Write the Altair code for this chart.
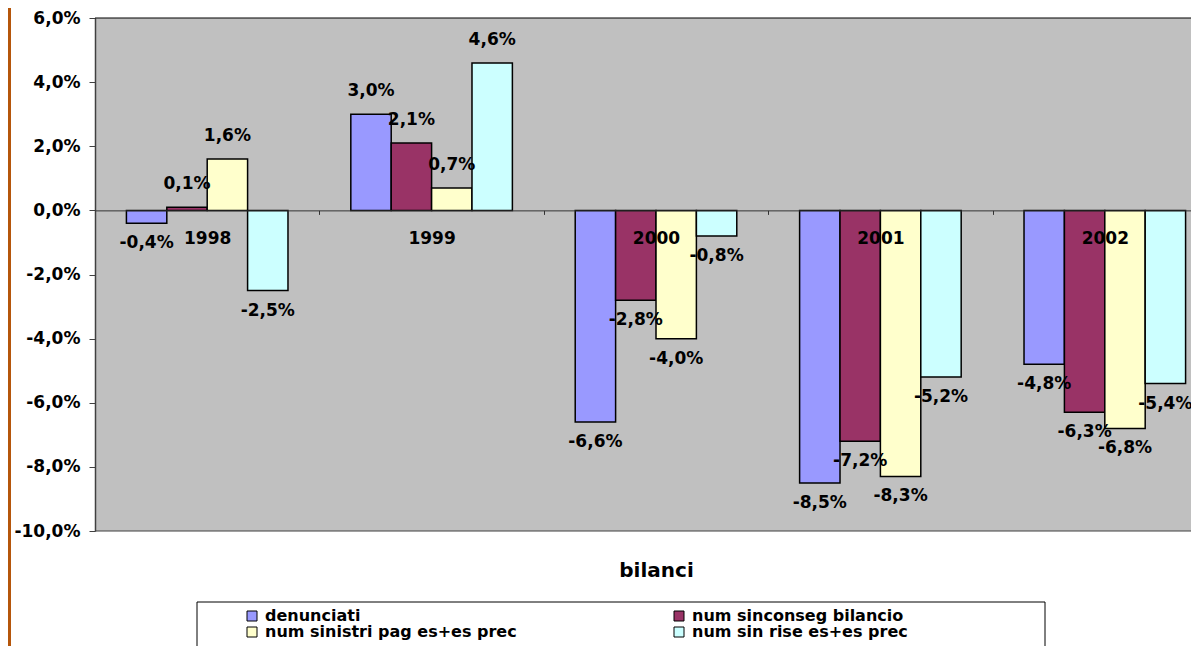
import altair as alt
import pandas as pd

years = ['1998', '1999', '2000', '2001', '2002']
series = ['denunciati', 'num sinconseg bilancio', 'num sinistri pag es+es prec', 'num sin rise  es+es prec']
denunciati = [-0.4, 3.0, -6.6, -8.5, -4.8]
sinconseg = [0.1, 2.1, -2.8, -7.2, -6.3]
sinistri_pag = [1.6, 0.7, -4.0, -8.3, -6.8]
sin_rise = [-2.5, 4.6, -0.8, -5.2, -5.4]
colors = ['#9999FF', '#993366', '#FFFFCC', '#CCFFFF']
y_ticks = [-10, -8, -6, -4, -2, 0, 2, 4, 6]

rows = []
for s, vals in zip(series, [denunciati, sinconseg, sinistri_pag, sin_rise]):
    for yr, v in zip(years, vals):
        rows.append({'year': yr, 'series': s, 'value': v})
df = pd.DataFrame(rows)

FONT = 'DejaVu Sans'
W, H = 1096, 513          # visible plot area (page is cut at the right)
XR = 1122                 # full x range of the category axis (runs past the page edge)
step = XR / len(years)
y0 = H * 6 / 16  # pixel of zero line from top

fmt = "(datum.value < 0 ? '-' : '') + replace(format(abs(datum.value), '.1f'), '.', ',') + '%'"

x_enc = alt.X('year:N', sort=years,
              scale=alt.Scale(paddingInner=0.28, paddingOuter=0.14, range=[0, XR]),
              axis=alt.Axis(title='bilanci', orient='bottom', offset=-(H - y0), labelAngle=0,
                            labelFont=FONT, labelFontSize=17, labelFontWeight='bold', labelColor='black',
                            labelPadding=16, tickSize=4, tickColor='#333333', tickWidth=1,
                            tickOffset=step / 2, labelOffset=-step / 2,
                            domainColor='#333333', domainWidth=1, zindex=1,
                            titleFont=FONT, titleFontSize=20, titleFontWeight='bold', titleColor='black',
                            titleX=XR / 2, titleY=552 - y0, titleBaseline='middle', titleAlign='center'))
xo_enc = alt.XOffset('series:N', sort=series, scale=alt.Scale(paddingInner=0, paddingOuter=0))
y_enc = alt.Y('value:Q', scale=alt.Scale(domain=[-10, 6], nice=False, zero=False),
              axis=alt.Axis(values=y_ticks, grid=False, title=None, labelExpr=fmt,
                            labelFont=FONT, labelFontSize=17, labelFontWeight='bold', labelColor='black',
                            labelOverlap=False, tickSize=6, tickColor='#404040', labelPadding=9,
                            domainColor='#404040', domainWidth=1.5))

one = pd.DataFrame({'a': [0]})
stripe = alt.Chart(one).mark_rect(color='#B5560B').encode(
    x=alt.value(-87), x2=alt.value(-84), y=alt.value(-10), y2=alt.value(640))

top_line = alt.Chart(one).mark_rule(color='black', strokeWidth=1).encode(
    x=alt.value(0), x2=alt.value(W + 10), y=alt.value(0))
bottom_line = alt.Chart(one).mark_rule(color='#404040', strokeWidth=1).encode(
    x=alt.value(0), x2=alt.value(W + 10), y=alt.value(H))

frame = alt.Chart(one).mark_rect(fill='white', stroke='black', strokeWidth=1).encode(
    x=alt.value(102), x2=alt.value(950), y=alt.value(584), y2=alt.value(700))

bars = alt.Chart(df).mark_bar(stroke='black', strokeWidth=1.5).encode(
    x=x_enc, xOffset=xo_enc, y=y_enc,
    color=alt.Color('series:N', sort=series,
                    scale=alt.Scale(domain=series, range=colors),
                    legend=alt.Legend(orient='none', legendX=149, legendY=590, columns=2,
                                      direction='horizontal', title=None,
                                      symbolType='square', symbolSize=100, symbolStrokeColor='black',
                                      symbolStrokeWidth=1, labelFont=FONT, labelFontWeight='bold',
                                      labelFontSize=16, labelColor='black', labelOffset=5,
                                      labelLimit=500, rowPadding=-6, columnPadding=154, padding=0)))

base_text = alt.Chart(df).transform_calculate(
    label="(datum.value < 0 ? '-' : '') + replace(format(abs(datum.value), '.1f'), '.', ',') + '%'")

pos_labels = base_text.transform_filter('datum.value >= 0').mark_text(
    font=FONT, fontSize=17, fontWeight='bold', color='black', baseline='middle', dy=-23).encode(
    x=alt.X('year:N', sort=years), xOffset=alt.XOffset('series:N', sort=series),
    y=alt.Y('value:Q'), text='label:N')

neg_labels = base_text.transform_filter('datum.value < 0').mark_text(
    font=FONT, fontSize=17, fontWeight='bold', color='black', baseline='middle', dy=20).encode(
    x=alt.X('year:N', sort=years), xOffset=alt.XOffset('series:N', sort=series),
    y=alt.Y('value:Q'), text='label:N')

chart = alt.layer(stripe, frame, top_line, bottom_line, bars, pos_labels, neg_labels).properties(
    width=W, height=H,
    autosize=alt.AutoSizeParams(type='none'),
    padding={'left': 87, 'top': 10, 'right': 0, 'bottom': 115},
    background='white'
).configure_view(fill='#C0C0C0', stroke='transparent', strokeWidth=0)

chart.save('out.html', embed_options={'renderer': 'svg', 'actions': False})
